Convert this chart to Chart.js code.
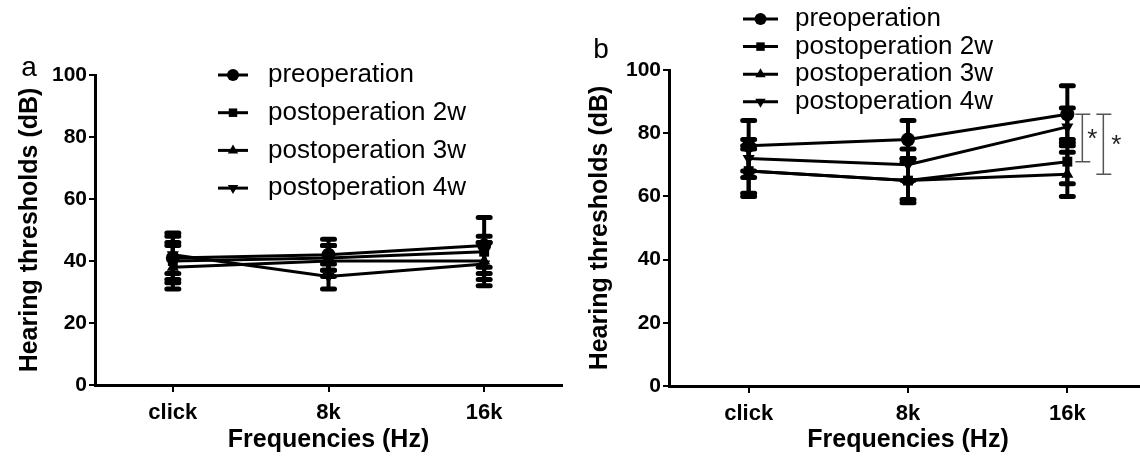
<!DOCTYPE html>
<html>
<head>
<meta charset="utf-8">
<script src="https://cdn.jsdelivr.net/npm/chart.js"></script>
<style>
  html, body { margin: 0; padding: 0; background: #fff; width: 1140px; height: 462px; overflow: hidden; }
  #wrapA { position: absolute; left: 0; top: 0; width: 570px; height: 462px; }
  #wrapB { position: absolute; left: 570px; top: 0; width: 590px; height: 462px; }
</style>
</head>
<body>
<div id="wrapA"><canvas id="chartA" width="570" height="462"></canvas></div>
<div id="wrapB"><canvas id="chartB" width="590" height="462"></canvas></div>
<script>
const freqs = ['click', '8k', '16k'];
const seriesNames = ['preoperation', 'postoperation 2w', 'postoperation 3w', 'postoperation 4w'];
const yTicks = [0, 20, 40, 60, 80, 100];

// panel a: means and SD
const aPre = [41, 42, 45];
const aPreSd = [8, 5, 9];
const a2w = [40, 41, 43];
const a2wSd = [6, 4, 5];
const a3w = [38, 40, 40];
const a3wSd = [7, 5, 6];
const a4w = [42, 35, 39];
const a4wSd = [6, 4, 7];

// panel b: means and SD
const bPre = [76, 78, 86];
const bPreSd = [8, 6, 9];
const b2w = [68, 65, 71];
const b2wSd = [7, 6, 7];
const b3w = [68, 65, 67];
const b3wSd = [8, 7, 7];
const b4w = [72, 70, 82];
const b4wSd = [6, 5, 6];

// significance at 16k: preoperation vs 2w, preoperation vs 3w
const sigPairs = [[0, 1], [0, 2]];

const bold = "'Liberation Sans', Arial, sans-serif";
const plain = "'Liberation Sans', Arial, sans-serif";
const markers = [
  { style: 'circle', rot: 0 },
  { style: 'rect', rot: 0 },
  { style: 'triangle', rot: 0 },
  { style: 'triangle', rot: 180 }
];

function makeSets(vals, sds) {
  return vals.map((v, i) => ({
    label: seriesNames[i],
    data: v,
    sd: sds[i],
    borderColor: '#000',
    backgroundColor: '#000',
    borderWidth: 3,
    pointStyle: markers[i].style,
    pointRotation: markers[i].rot,
    pointRadius: 7,
    pointBorderWidth: 0,
    tension: 0
  }));
}

const errorBars = {
  id: 'errorBars',
  beforeDatasetsDraw(chart) {
    const ctx = chart.ctx;
    const y = chart.scales.y;
    ctx.save();
    ctx.strokeStyle = '#000';
    ctx.lineCap = 'round';
    chart.data.datasets.forEach((ds, i) => {
      const meta = chart.getDatasetMeta(i);
      meta.data.forEach((pt, j) => {
        const top = y.getPixelForValue(ds.data[j] + ds.sd[j]);
        const bot = y.getPixelForValue(ds.data[j] - ds.sd[j]);
        ctx.lineWidth = 4;
        ctx.beginPath();
        ctx.moveTo(pt.x, top);
        ctx.lineTo(pt.x, bot);
        ctx.stroke();
        ctx.lineWidth = 5;
        ctx.beginPath();
        ctx.moveTo(pt.x - 6, top);
        ctx.lineTo(pt.x + 6, top);
        ctx.moveTo(pt.x - 6, bot);
        ctx.lineTo(pt.x + 6, bot);
        ctx.stroke();
      });
    });
    ctx.restore();
  }
};

const sideLegend = {
  id: 'sideLegend',
  afterDraw(chart, args, opts) {
    const ctx = chart.ctx;
    ctx.save();
    chart.data.datasets.forEach((ds, i) => {
      const yy = opts.y + i * opts.gap;
      ctx.strokeStyle = '#000';
      ctx.lineWidth = 3;
      ctx.beginPath();
      ctx.moveTo(opts.x, yy);
      ctx.lineTo(opts.x + opts.len, yy);
      ctx.stroke();
      ctx.fillStyle = '#000';
      Chart.helpers.drawPoint(ctx, {
        pointStyle: ds.pointStyle, rotation: ds.pointRotation, radius: 6, borderWidth: 0
      }, opts.x + opts.len / 2, yy);
      ctx.fillStyle = '#000';
      ctx.font = '26px ' + plain;
      ctx.textBaseline = 'middle';
      ctx.textAlign = 'left';
      ctx.fillText(ds.label, opts.textX, yy);
    });
    ctx.font = '28px ' + plain;
    ctx.textAlign = 'center';
    ctx.textBaseline = 'middle';
    ctx.fillText(opts.letter, opts.letterX, opts.letterY);
    ctx.restore();
  }
};

const sigBrackets = {
  id: 'sigBrackets',
  afterDraw(chart, args, opts) {
    if (!opts.pairs) return;
    const ctx = chart.ctx;
    const y = chart.scales.y;
    const x16 = chart.scales.x.getPixelForValue(2);
    ctx.save();
    ctx.strokeStyle = '#555';
    ctx.fillStyle = '#222';
    ctx.lineWidth = 1.5;
    opts.pairs.forEach((p, k) => {
      const bx = x16 + 15 + k * 21;
      const y1 = y.getPixelForValue(chart.data.datasets[p[0]].data[2]);
      const y2 = y.getPixelForValue(chart.data.datasets[p[1]].data[2]);
      ctx.beginPath();
      ctx.moveTo(bx - 7, y1); ctx.lineTo(bx + 8, y1);
      ctx.moveTo(bx, y1); ctx.lineTo(bx, y2);
      ctx.moveTo(bx - 7, y2); ctx.lineTo(bx + 8, y2);
      ctx.stroke();
      ctx.font = '26px ' + plain;
      ctx.textAlign = 'center';
      ctx.textBaseline = 'middle';
      ctx.fillText('*', bx + 10 + k * 3, (y1 + y2) / 2 + 2);
    });
    ctx.restore();
  }
};

function makeOptions(yWidth, xHeight, padTop, padRight, legendOpts, pairs) {
  return {
    responsive: false,
    animation: false,
    layout: { padding: { top: padTop, right: padRight, left: 0, bottom: 0 } },
    plugins: {
      legend: { display: false },
      tooltip: { enabled: false },
      sideLegend: legendOpts,
      sigBrackets: { pairs: pairs }
    },
    scales: {
      x: {
        type: 'category',
        offset: true,
        grid: { display: true, drawOnChartArea: false, drawTicks: true, tickLength: 7, color: '#000', lineWidth: 2 },
        border: { display: true, color: '#000', width: 3 },
        ticks: { color: '#000', padding: 8, font: { family: bold, size: 22, weight: 'bold' } },
        title: { display: true, text: 'Frequencies (Hz)', color: '#000', padding: { top: 0, bottom: 7 }, font: { family: bold, size: 25, weight: 'bold' } },
        afterFit: s => { s.height = xHeight; }
      },
      y: {
        min: 0,
        max: 100,
        afterBuildTicks: s => { s.ticks = yTicks.map(v => ({ value: v })); },
        grid: { display: true, drawOnChartArea: false, drawTicks: true, tickLength: 6, color: '#000', lineWidth: 2 },
        border: { display: true, color: '#000', width: 3 },
        ticks: { color: '#000', padding: 2, font: { family: bold, size: 21, weight: 'bold' } },
        title: { display: true, text: 'Hearing thresholds (dB)', color: '#000', padding: { top: 15, bottom: 0 }, font: { family: bold, size: 25, weight: 'bold' } },
        afterFit: s => { s.width = yWidth; }
      }
    }
  };
}

new Chart(document.getElementById('chartA'), {
  type: 'line',
  data: { labels: freqs, datasets: makeSets([aPre, a2w, a3w, a4w], [aPreSd, a2wSd, a3wSd, a4wSd]) },
  options: makeOptions(95, 77, 75, 8,
    { x: 218, len: 30, textX: 268, y: 75, gap: 37.7, letter: 'a', letterX: 29, letterY: 68 }, null),
  plugins: [errorBars, sideLegend, sigBrackets]
});

new Chart(document.getElementById('chartB'), {
  type: 'line',
  data: { labels: freqs, datasets: makeSets([bPre, b2w, b3w, b4w], [bPreSd, b2wSd, b3wSd, b4wSd]) },
  options: makeOptions(99, 76, 70, 13,
    { x: 173, len: 35, textX: 225, y: 19, gap: 27.6, letter: 'b', letterX: 31, letterY: 50 }, sigPairs),
  plugins: [errorBars, sideLegend, sigBrackets]
});
</script>
</body>
</html>
